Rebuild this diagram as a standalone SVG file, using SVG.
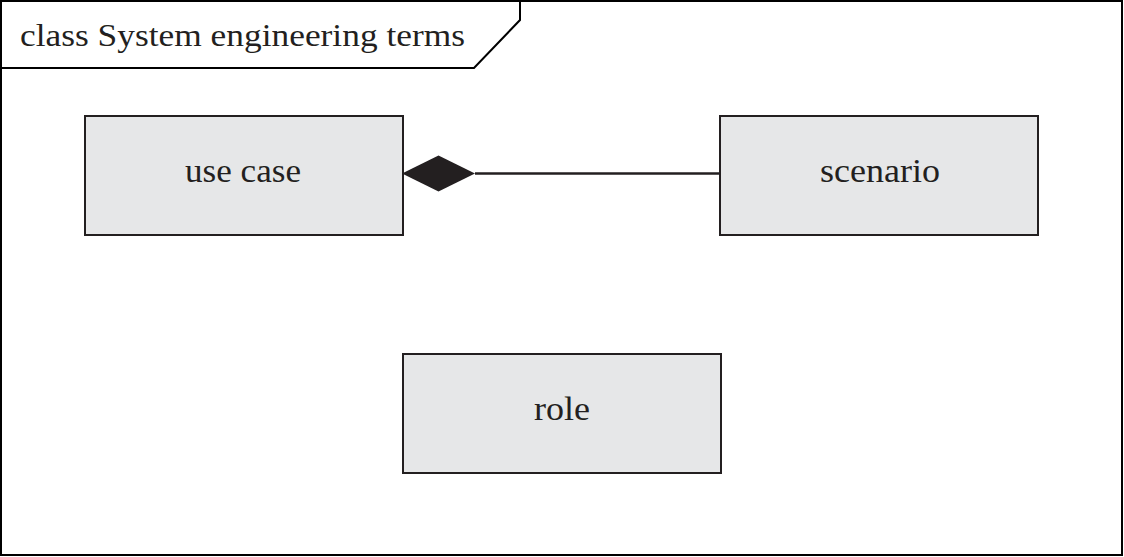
<svg xmlns="http://www.w3.org/2000/svg" width="1124" height="557" viewBox="0 0 1124 557">
<style>
.frame{fill:#fff;stroke:#000;stroke-width:2}
.node rect{fill:#e6e7e8;stroke:#231f20;stroke-width:2}
text{font-family:"Liberation Serif","DejaVu Serif",serif;fill:#231f20}
.title{font-size:32px}
.lbl{text-anchor:middle;font-size:34px}
.conn{stroke:#231f20;stroke-width:2.5;fill:none}
</style>
<rect class="frame" x="1" y="1" width="1121" height="554"/>
<path d="M1 68 L474 68 L520 20 L520 1" fill="none" stroke="#000" stroke-width="2"/>
<text class="title" x="20" y="45.5" textLength="445" lengthAdjust="spacingAndGlyphs">class System engineering terms</text>
<g id="use-case" class="node"><rect x="85" y="116" width="318" height="119"/><text class="lbl" x="243" y="181.5" textLength="116" lengthAdjust="spacingAndGlyphs">use case</text></g>
<g id="scenario" class="node"><rect x="720" y="116" width="318" height="119"/><text class="lbl" x="880" y="181.5" textLength="120" lengthAdjust="spacingAndGlyphs">scenario</text></g>
<g id="role" class="node"><rect x="403" y="354" width="318" height="119"/><text class="lbl" x="562" y="419.5" textLength="56" lengthAdjust="spacingAndGlyphs">role</text></g>
<g id="connectors">
<line class="conn" x1="475" y1="173.5" x2="720" y2="173.5"/>
<polygon points="402,173.5 438.5,155.5 475,173.5 438.5,191.5" fill="#231f20"/>
</g>
</svg>
